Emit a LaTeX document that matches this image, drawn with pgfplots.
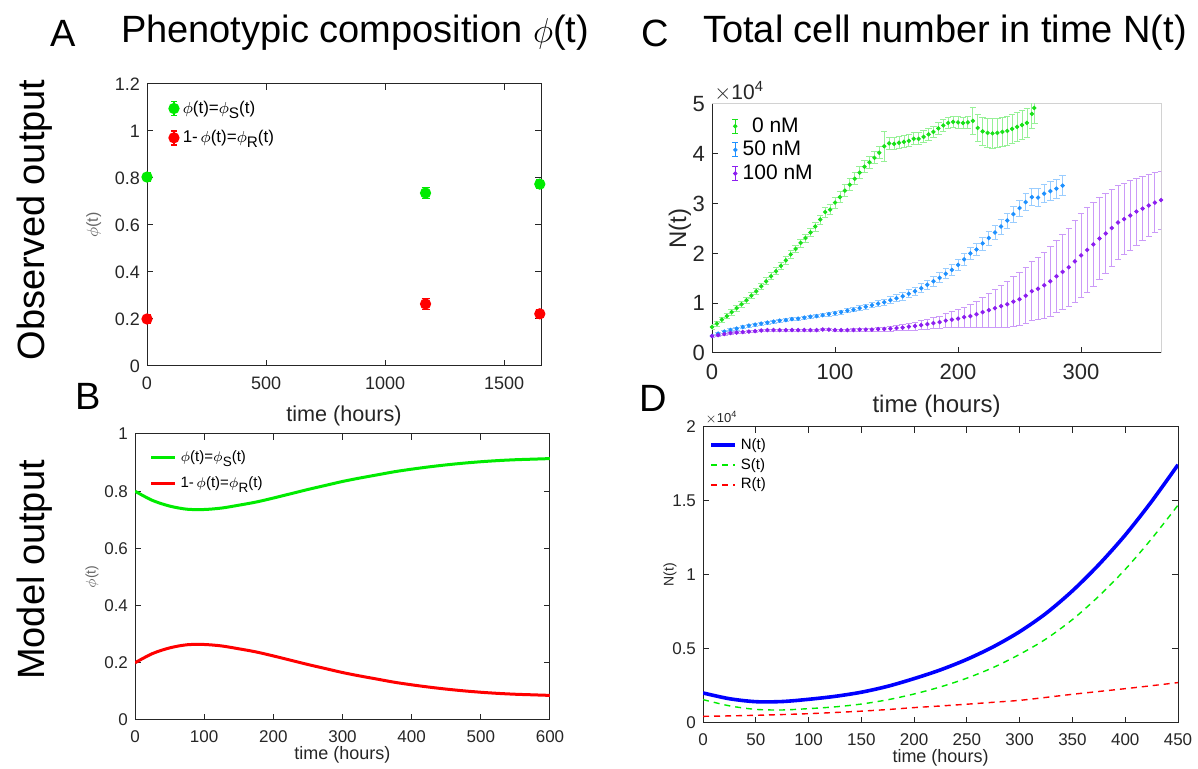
\documentclass[border=0pt]{standalone}
\usepackage{fontspec}
\setmainfont{Liberation Sans}
\usepackage{pgfplots}
\pgfplotsset{compat=1.18}

\definecolor{axgray}{RGB}{38,38,38}
\definecolor{mgreen}{RGB}{0,235,0}
\definecolor{mred}{RGB}{255,0,0}
\definecolor{mblue}{RGB}{0,0,255}
\definecolor{czero}{RGB}{25,225,25}
\definecolor{cfifty}{RGB}{30,144,255}
\definecolor{chund}{RGB}{140,30,240}

\newcommand{\fs}[1]{\fontsize{#1}{1.2\dimexpr#1\relax}\selectfont}
\newcommand{\sub}[1]{\raisebox{-0.55ex}{\scalebox{0.9}{#1}}}

\pgfplotsset{
  mat/.style={
    scale only axis,
    clip mode=individual,
    axis line style={axgray, line width=0.5pt},
    tick style={axgray, line width=0.5pt},
    tick align=inside,
    major tick length=3pt,
    ticklabel style={text=axgray},
    xticklabel style={yshift=-2pt},
    label style={text=axgray},
    /pgf/number format/assume math mode=true,
    /pgf/number format/1000 sep={},
    legend style={draw=none, fill=none},
    legend cell align=left,
  },
  ebar/.style={
    legend image code/.code={
      \draw[##1, mark=none] (0.2cm,-3.5pt) -- (0.2cm,3.5pt)
        (0.2cm-1.5pt,-3.5pt) -- (0.2cm+1.5pt,-3.5pt)
        (0.2cm-1.5pt,3.5pt) -- (0.2cm+1.5pt,3.5pt);
      \draw[##1, only marks] plot coordinates {(0.2cm,0cm)};
    }
  },
}

\begin{document}
\begin{tikzpicture}
\useasboundingbox (0,0) rectangle (599pt,384.5pt);

% titles and row labels
\node[font=\fs{19pt}] at (31.5pt,368pt) {A};
\node[font=\fs{19pt}] at (177.5pt,368pt) {Phenotypic composition $\phi$(t)};
\node[font=\fs{19pt}] at (327.5pt,368pt) {C};
\node[font=\fs{19pt}] at (472.5pt,368pt) {Total cell number in time N(t)};
\node[font=\fs{19pt}] at (44pt,186.5pt) {B};
\node[font=\fs{19pt}] at (326.5pt,185.5pt) {D};
\node[font=\fs{19pt}, rotate=90] at (17.5pt,274.5pt) {Observed output};
\node[font=\fs{19pt}, rotate=90] at (17.5pt,99.5pt) {Model output};

% A: observed composition
\begin{axis}[mat, ebar,
  at={(73.5pt,201.5pt)}, anchor=south west,
  width=197pt, height=141pt,
  xmin=0, xmax=1655, ymin=0, ymax=1.2,
  xtick={0,500,1000,1500},
  ytick={0,0.2,0.4,0.6,0.8,1,1.2},
  yticklabels={0,0.2,0.4,0.6,0.8,1,1.2},
  ticklabel style={font=\fs{9pt}},
  xlabel={time (hours)}, xlabel style={font=\fs{10.8pt}, yshift=-1pt},
  ylabel={$\phi$(t)}, ylabel style={font=\fs{8pt}, text=gray!80!black},
  legend style={at={(0.04,0.97)}, anchor=north west, font=\fs{8.5pt}, row sep=3pt},
]
\addplot[mgreen, only marks, mark=*, mark size=2.4pt, line width=0.8pt,
  error bars/.cd, y dir=both, y explicit,
  error bar style={mgreen, line width=0.8pt},
  error mark options={rotate=90, mgreen, mark size=2pt}]
  coordinates {(0,0.804) +- (0,0.02) (1170,0.736) +- (0,0.022) (1650,0.774) +- (0,0.02)};
\addplot[mred, only marks, mark=*, mark size=2.4pt, line width=0.8pt,
  error bars/.cd, y dir=both, y explicit,
  error bar style={mred, line width=0.8pt},
  error mark options={rotate=90, mred, mark size=2pt}]
  coordinates {(0,0.200) +- (0,0.02) (1170,0.264) +- (0,0.025) (1650,0.222) +- (0,0.02)};
\legend{$\phi$(t)=$\phi$\sub{S}(t), 1-\,$\phi$(t)=$\phi$\sub{R}(t)}
\end{axis}

% B: model composition
\begin{axis}[mat,
  at={(67.5pt,24.5pt)}, anchor=south west,
  width=207.5pt, height=143pt,
  xmin=0, xmax=600, ymin=0, ymax=1,
  xtick={0,100,...,600},
  ytick={0,0.2,0.4,0.6,0.8,1},
  yticklabels={0,0.2,0.4,0.6,0.8,1},
  ticklabel style={font=\fs{8.5pt}},
  xlabel={time (hours)}, xlabel style={font=\fs{9pt}, yshift=5pt},
  ylabel={$\phi$(t)}, ylabel style={font=\fs{7pt}, text=gray!80!black, yshift=-4pt},
  legend style={at={(0.02,0.97)}, anchor=north west, font=\fs{7.5pt}, row sep=2pt},
  legend image code/.code={\draw[#1] (0cm,0cm) -- (0.42cm,0cm);},
]
\addplot[mgreen, line width=1.5pt, smooth] coordinates {
  (0,0.800) (25,0.768) (50,0.748) (75,0.737) (100,0.736) (125,0.741)
  (150,0.751) (175,0.762) (200,0.776) (225,0.791) (250,0.806) (275,0.820)
  (300,0.834) (325,0.846) (350,0.857) (375,0.868) (400,0.877) (425,0.885)
  (450,0.892) (475,0.898) (500,0.903) (525,0.907) (550,0.910) (575,0.912) (600,0.914)};
\addplot[mred, line width=1.5pt, smooth] coordinates {
  (0,0.200) (25,0.232) (50,0.252) (75,0.263) (100,0.264) (125,0.259)
  (150,0.249) (175,0.238) (200,0.224) (225,0.209) (250,0.194) (275,0.180)
  (300,0.166) (325,0.154) (350,0.143) (375,0.132) (400,0.123) (425,0.115)
  (450,0.108) (475,0.102) (500,0.097) (525,0.093) (550,0.090) (575,0.088) (600,0.086)};
\legend{$\phi$(t)=$\phi$\sub{S}(t), 1-\,$\phi$(t)=$\phi$\sub{R}(t)}
\end{axis}

% C: observed cell number (units of 10^4)
\begin{axis}[mat, ebar,
  at={(356pt,208pt)}, anchor=south west,
  width=224.5pt, height=124.5pt,
  axis x line*=bottom, axis y line*=left,
  xmin=0, xmax=365, ymin=0, ymax=5,
  xtick={0,100,200,300}, ytick={0,1,2,3,4,5},
  ticklabel style={font=\fs{11pt}},
  xlabel={time (hours)}, xlabel style={font=\fs{12pt}, yshift=-1pt},
  ylabel={N(t)}, ylabel style={font=\fs{12pt}, yshift=-6pt},
  legend style={at={(0.03,0.98)}, anchor=north west, font=\fs{10.5pt}, row sep=-1pt},
]
\draw[gray!35, line width=0.5pt] (rel axis cs:0,1) -- (rel axis cs:1,1) -- (rel axis cs:1,0);
\node[anchor=south west, font=\fs{10.5pt}, text=axgray, inner sep=1pt] at (rel axis cs:0,1) {$\times$10\textsuperscript{4}};
\addplot[czero, only marks, mark=*, mark size=0.9pt,
  error bars/.cd, y dir=both, y explicit,
  error bar style={czero!45, line width=0.4pt},
  error mark options={rotate=90, czero!45, mark size=1.6pt}]
  table[x=t, y=n, y error=e] {
t n e
0 0.52 0.05
4 0.59 0.05
8 0.67 0.05
12 0.74 0.05
16 0.82 0.06
20 0.90 0.06
24 0.98 0.06
28 1.06 0.06
32 1.15 0.06
36 1.24 0.06
40 1.34 0.06
44 1.44 0.07
48 1.54 0.07
52 1.64 0.07
56 1.75 0.07
60 1.86 0.08
64 1.98 0.08
68 2.09 0.08
72 2.21 0.08
76 2.31 0.08
80 2.42 0.08
84 2.54 0.09
88 2.68 0.09
92 2.83 0.10
96 2.88 0.10
100 3.02 0.11
104 3.13 0.11
108 3.26 0.12
112 3.38 0.12
116 3.50 0.12
120 3.62 0.12
124 3.74 0.12
128 3.83 0.12
132 3.92 0.12
136 4.02 0.12
140 4.15 0.30
144 4.21 0.12
148 4.20 0.12
152 4.22 0.12
156 4.24 0.12
160 4.26 0.12
164 4.30 0.12
168 4.30 0.12
172 4.34 0.12
176 4.39 0.12
180 4.44 0.12
184 4.51 0.12
188 4.57 0.12
192 4.62 0.12
196 4.64 0.12
200 4.63 0.12
204 4.62 0.12
208 4.63 0.12
212 4.66 0.28
216 4.52 0.28
220 4.45 0.28
224 4.42 0.30
228 4.41 0.30
232 4.42 0.30
236 4.44 0.30
240 4.46 0.30
244 4.50 0.30
248 4.54 0.30
252 4.58 0.30
256 4.62 0.30
260 4.80 0.30
262 4.92 0.30
};
\addplot[cfifty, only marks, mark=*, mark size=0.9pt,
  error bars/.cd, y dir=both, y explicit,
  error bar style={cfifty!45, line width=0.4pt},
  error mark options={rotate=90, cfifty!45, mark size=1.6pt}]
  table[x=t, y=n, y error=e] {
t n e
0 0.34 0.03
5 0.39 0.03
10 0.43 0.03
15 0.46 0.03
20 0.49 0.03
25 0.52 0.03
30 0.55 0.03
35 0.57 0.03
40 0.59 0.03
45 0.61 0.03
50 0.63 0.03
55 0.65 0.03
60 0.66 0.03
65 0.68 0.03
70 0.69 0.03
75 0.71 0.03
80 0.73 0.03
85 0.74 0.03
90 0.76 0.03
95 0.78 0.04
100 0.80 0.04
105 0.82 0.04
110 0.85 0.04
115 0.87 0.04
120 0.90 0.05
125 0.93 0.05
130 0.96 0.05
135 0.99 0.06
140 1.02 0.06
145 1.06 0.07
150 1.10 0.07
155 1.14 0.08
160 1.19 0.08
165 1.24 0.08
170 1.30 0.09
175 1.37 0.09
180 1.44 0.10
185 1.51 0.10
190 1.59 0.10
195 1.67 0.11
200 1.77 0.11
205 1.88 0.12
210 2.00 0.12
215 2.08 0.13
220 2.20 0.13
225 2.31 0.14
230 2.42 0.14
235 2.54 0.15
240 2.66 0.15
245 2.79 0.16
250 2.91 0.16
255 3.03 0.17
260 3.13 0.17
265 3.12 0.18
270 3.20 0.18
275 3.25 0.19
280 3.30 0.19
285 3.36 0.20
};
\addplot[chund, only marks, mark=*, mark size=0.9pt,
  error bars/.cd, y dir=both, y explicit,
  error bar style={chund!45, line width=0.4pt},
  error mark options={rotate=90, chund!45, mark size=1.6pt}]
  table[x=t, y=n, y error=e] {
t n e
0 0.34 0.02
5 0.36 0.02
10 0.38 0.02
15 0.40 0.02
20 0.41 0.02
25 0.42 0.02
30 0.43 0.02
35 0.44 0.02
40 0.45 0.02
45 0.46 0.02
50 0.46 0.02
55 0.46 0.02
60 0.46 0.02
65 0.46 0.02
70 0.46 0.02
75 0.46 0.02
80 0.46 0.02
85 0.46 0.02
90 0.47 0.02
95 0.47 0.02
100 0.46 0.02
105 0.46 0.02
110 0.46 0.02
115 0.46 0.03
120 0.47 0.03
125 0.47 0.03
130 0.47 0.03
135 0.48 0.04
140 0.48 0.04
145 0.49 0.05
150 0.50 0.05
155 0.51 0.06
160 0.53 0.07
165 0.54 0.08
170 0.56 0.09
175 0.58 0.10
180 0.60 0.11
185 0.62 0.12
190 0.65 0.14
195 0.67 0.16
200 0.69 0.18
205 0.72 0.20
210 0.74 0.23
215 0.78 0.26
220 0.82 0.30
225 0.86 0.34
230 0.90 0.38
235 0.94 0.42
240 0.98 0.46
245 1.03 0.50
250 1.08 0.53
255 1.15 0.56
260 1.24 0.59
265 1.29 0.62
270 1.36 0.66
275 1.44 0.70
280 1.54 0.73
285 1.63 0.76
290 1.72 0.79
295 1.84 0.82
300 1.96 0.85
305 2.07 0.86
310 2.18 0.85
315 2.30 0.83
320 2.40 0.80
325 2.51 0.78
330 2.62 0.75
335 2.69 0.72
340 2.76 0.70
345 2.84 0.67
350 2.90 0.64
355 2.96 0.62
360 3.02 0.60
365 3.07 0.58
};
\legend{\ \,0 nM, 50 nM, 100 nM}
\end{axis}

% D: model cell number (units of 10^4)
\begin{axis}[mat,
  at={(351.5pt,23pt)}, anchor=south west,
  width=237.5pt, height=148pt,
  xmin=0, xmax=450, ymin=0, ymax=2,
  xtick={0,50,...,450}, ytick={0,0.5,1,1.5,2},
  yticklabels={0,0.5,1,1.5,2},
  ticklabel style={font=\fs{8.5pt}},
  xlabel={time (hours)}, xlabel style={font=\fs{9pt}, yshift=5pt},
  ylabel={N(t)}, ylabel style={font=\fs{7pt}, yshift=-9pt},
  legend style={at={(0.0,0.99)}, anchor=north west, font=\fs{7.5pt}, row sep=-1pt},
  legend image code/.code={\draw[#1] (0cm,0cm) -- (0.42cm,0cm);},
]
\node[anchor=south west, font=\fs{6.5pt}, text=axgray, inner sep=1pt] at (rel axis cs:0,1) {$\times$10\textsuperscript{4}};
\addplot[mblue, line width=1.8pt, smooth] coordinates {
  (0,0.203) (25,0.164) (50,0.144) (75,0.145) (100,0.160) (125,0.180)
  (150,0.208) (175,0.248) (200,0.300) (225,0.359) (250,0.430) (275,0.515)
  (300,0.617) (325,0.741) (350,0.893) (375,1.070) (400,1.270) (425,1.497) (450,1.745)};
\addplot[mgreen, line width=0.7pt, dash pattern=on 3pt off 2.5pt, smooth] coordinates {
  (0,0.158) (25,0.116) (50,0.092) (75,0.088) (100,0.097) (125,0.109)
  (150,0.128) (175,0.157) (200,0.196) (225,0.244) (250,0.303) (275,0.375)
  (300,0.464) (325,0.568) (350,0.699) (375,0.857) (400,1.038) (425,1.245) (450,1.472)};
\addplot[mred, line width=0.7pt, dash pattern=on 3pt off 2.5pt, smooth] coordinates {
  (0,0.045) (25,0.048) (50,0.052) (75,0.057) (100,0.063) (125,0.071)
  (150,0.080) (175,0.091) (200,0.104) (225,0.115) (250,0.127) (275,0.140)
  (300,0.153) (325,0.173) (350,0.194) (375,0.213) (400,0.232) (425,0.252) (450,0.273)};
\legend{N(t), S(t), R(t)}
\end{axis}
\end{tikzpicture}
\end{document}
